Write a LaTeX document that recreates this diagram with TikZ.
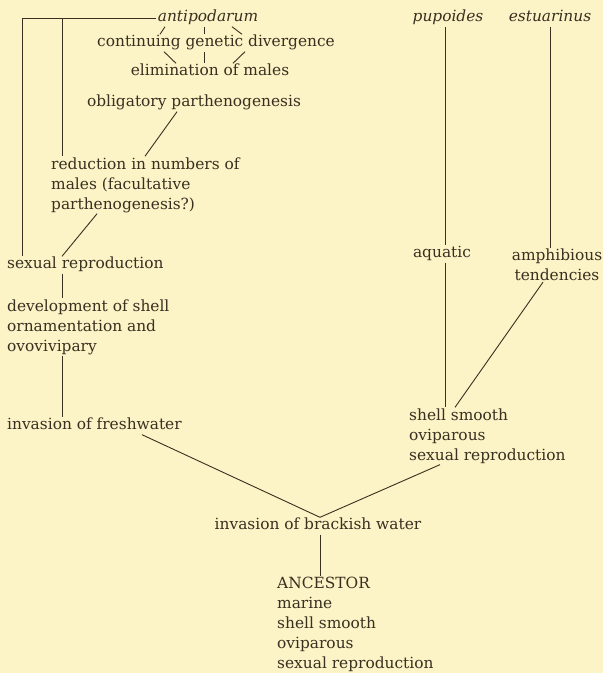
\documentclass[tikz,border=0pt]{standalone}
\usepackage{fontspec}
\setmainfont{DejaVu Serif}
\usetikzlibrary{calc}
\definecolor{bg}{HTML}{FCF3C6}
\definecolor{ink}{HTML}{383020}
\newcommand\lf{\fontsize{15.4}{20}\selectfont}
\begin{document}
\begin{tikzpicture}[x=1pt,y=-1pt,
  lbl/.style={inner xsep=2pt,inner ysep=1pt,text=ink,font=\lf,text height=11pt,text depth=4pt},
  ml/.style={inner xsep=2pt,inner ysep=1pt,text=ink,font=\lf,align=left},
  mc/.style={inner xsep=2pt,inner ysep=1pt,text=ink,font=\lf,align=center},
  ln/.style={draw=ink,line width=0.9pt}]
\fill[bg] (0,0) rectangle (603,673);
\useasboundingbox (0,0) rectangle (603,673);
% nodes
\node[lbl,font=\lf\itshape] (ant) at (208,18) {antipodarum};
\node[lbl] (cgd) at (216,43) {continuing genetic divergence};
\node[lbl] (elim) at (210,72) {elimination of males};
\node[lbl] (obl) at (194,103) {obligatory parthenogenesis};
\node[ml,anchor=west] (red) at (49,185) {reduction in numbers of\\ males (facultative\\ parthenogenesis?)};
\node[lbl,anchor=west] (sr1) at (5,265) {sexual reproduction};
\node[ml,anchor=west] (dev) at (5,327) {development of shell\\ ornamentation and\\ ovovivipary};
\node[lbl,anchor=west] (fresh) at (5,426) {invasion of freshwater};
\node[lbl] (brack) at (318,526) {invasion of brackish water};
\node[ml,anchor=west] (anc) at (275,624.5) {ANCESTOR\\ marine\\ shell smooth\\ oviparous\\ sexual reproduction};
\node[lbl,font=\lf\itshape] (pup) at (448,18) {pupoides};
\node[lbl,font=\lf\itshape] (est) at (550,18) {estuarinus};
\node[lbl] (aq) at (442,254) {aquatic};
\node[mc] (amph) at (557,265) {amphibious\\ tendencies};
\node[ml,anchor=west] (rsh) at (407,436) {shell smooth\\ oviparous\\ sexual reproduction};
% connectors
\coordinate (c1) at (22,18);
\coordinate (c2) at (62,18);
\draw[ln] (ant.west) -- (c1) -- (c1 |- sr1.north);
\draw[ln] (c2) -- (c2 |- red.north);
\draw[ln] ([xshift=-43pt]ant.south) -- ([xshift=-56pt]cgd.north);
\draw[ln] ([xshift=-4pt]ant.south) -- ([xshift=-12pt]cgd.north);
\draw[ln] ([xshift=24pt]ant.south) -- ([xshift=26pt]cgd.north);
\draw[ln] ([xshift=-52pt]cgd.south) -- ([xshift=-34pt]elim.north);
\draw[ln] ([xshift=-12pt]cgd.south) -- ([xshift=-6pt]elim.north);
\draw[ln] ([xshift=29pt]cgd.south) -- ([xshift=23pt]elim.north);
\draw[ln] ([xshift=-17pt]obl.south) -- ([xshift=96pt]red.north west);
\draw[ln] ([xshift=48pt]red.south west) -- ([xshift=57pt]sr1.north west);
\draw[ln] ([xshift=57pt]sr1.south west) -- ([xshift=57pt]dev.north west);
\draw[ln] ([xshift=57pt]dev.south west) -- ([xshift=57pt]fresh.north west);
\draw[ln] ([xshift=137pt]fresh.south west) -- ([xshift=2pt]brack.north);
\draw[ln] ([xshift=33pt]rsh.south west) -- ([xshift=2pt]brack.north);
\draw[ln] ([xshift=2pt]brack.south) -- ([xshift=45pt]anc.north west);
\draw[ln] ([xshift=-3pt]pup.south) -- ([xshift=3pt]aq.north);
\draw[ln] (est.south) -- (est.south |- amph.north);
\draw[ln] ([xshift=3pt]aq.south) -- ([xshift=3pt]aq.south |- rsh.north);
\draw[ln] ([xshift=-14pt]amph.south) -- ([xshift=48pt]rsh.north west);
\end{tikzpicture}
\end{document}
